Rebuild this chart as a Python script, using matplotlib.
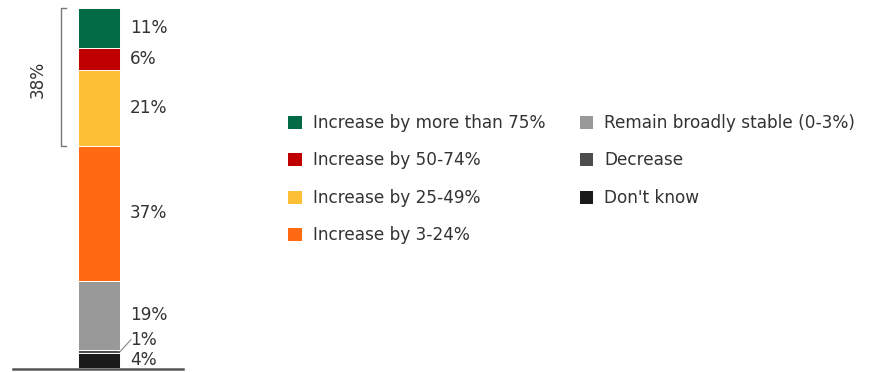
import matplotlib
matplotlib.use("Agg")
import matplotlib.pyplot as plt
from matplotlib.patches import Patch

categories = ["Don't know", "Decrease", "Remain broadly stable (0-3%)",
              "Increase by 3-24%", "Increase by 25-49%", "Increase by 50-74%",
              "Increase by more than 75%"]
values = [4, 1, 19, 37, 21, 6, 11]
labels = ["4%", "1%", "19%", "37%", "21%", "6%", "11%"]
colors = ["#1a1a1a", "#4d4d4d", "#999999", "#ff6a13", "#fdbf35", "#c00000", "#006b45"]
bracket_label = "38%"
bracket_value = 38

legend_order = ["Increase by more than 75%", "Increase by 50-74%", "Increase by 25-49%",
                "Increase by 3-24%", "Remain broadly stable (0-3%)", "Decrease", "Don't know"]

plt.rcParams['font.family'] = ['DejaVu Sans']
txt = "#333333"
fs = 12.2

W, H = 873, 372
fig = plt.figure(figsize=(W / 100, H / 100), dpi=100)
ax = fig.add_axes([0, 4 / H, 200 / W, 360 / H])
ax.set_xlim(0, 200)
total = sum(values)
ax.set_ylim(0, total)
ax.axis("off")

xc, bw = 99, 42
bottom = 0
centers = []
for v, c in zip(values, colors):
    ax.bar(xc, v, bottom=bottom, width=bw, color=c, edgecolor="white", linewidth=0.7)
    centers.append(bottom + v / 2)
    bottom += v

# value labels
lx = 130
for lab, cy in zip(labels, centers):
    if lab == "1%":
        ty = cy + 3.3
        ax.plot([xc + bw / 2, lx - 3, lx + 1], [cy, ty - 1.2, ty], color="#888888", lw=0.8, clip_on=False)
        ax.text(lx, ty, lab, ha="left", va="center", fontsize=fs, color=txt)
    elif lab == "4%":
        ax.text(lx, cy + 0.3, lab, ha="left", va="center", fontsize=fs, color=txt)
    else:
        ax.text(lx, cy, lab, ha="left", va="center", fontsize=fs, color=txt)

# baseline
ax.plot([13, 183], [-0.4, -0.4], color="#555555", lw=1.8, clip_on=False)

# bracket over top group
btop = total
bbot = total - bracket_value
bx = 61
ax.plot([bx + 5, bx, bx, bx + 5], [btop, btop, bbot, bbot], color="#777777", lw=1, clip_on=False)
ax.text(38, (btop + bbot) / 2 - 0.5, bracket_label, rotation=90, ha="center", va="center",
        fontsize=fs, color=txt)

handles = [Patch(facecolor=colors[categories.index(n)], edgecolor="none") for n in legend_order]
fig.legend(handles, legend_order, loc="upper left", bbox_to_anchor=(288 / W, 1 - 114 / H),
           ncol=2, frameon=False, fontsize=fs, labelcolor=txt,
           handlelength=0.8, handleheight=0.8, handletextpad=0.65,
           labelspacing=1.15, columnspacing=2.05, borderpad=0, borderaxespad=0)

fig.savefig("out.png", dpi=100)
